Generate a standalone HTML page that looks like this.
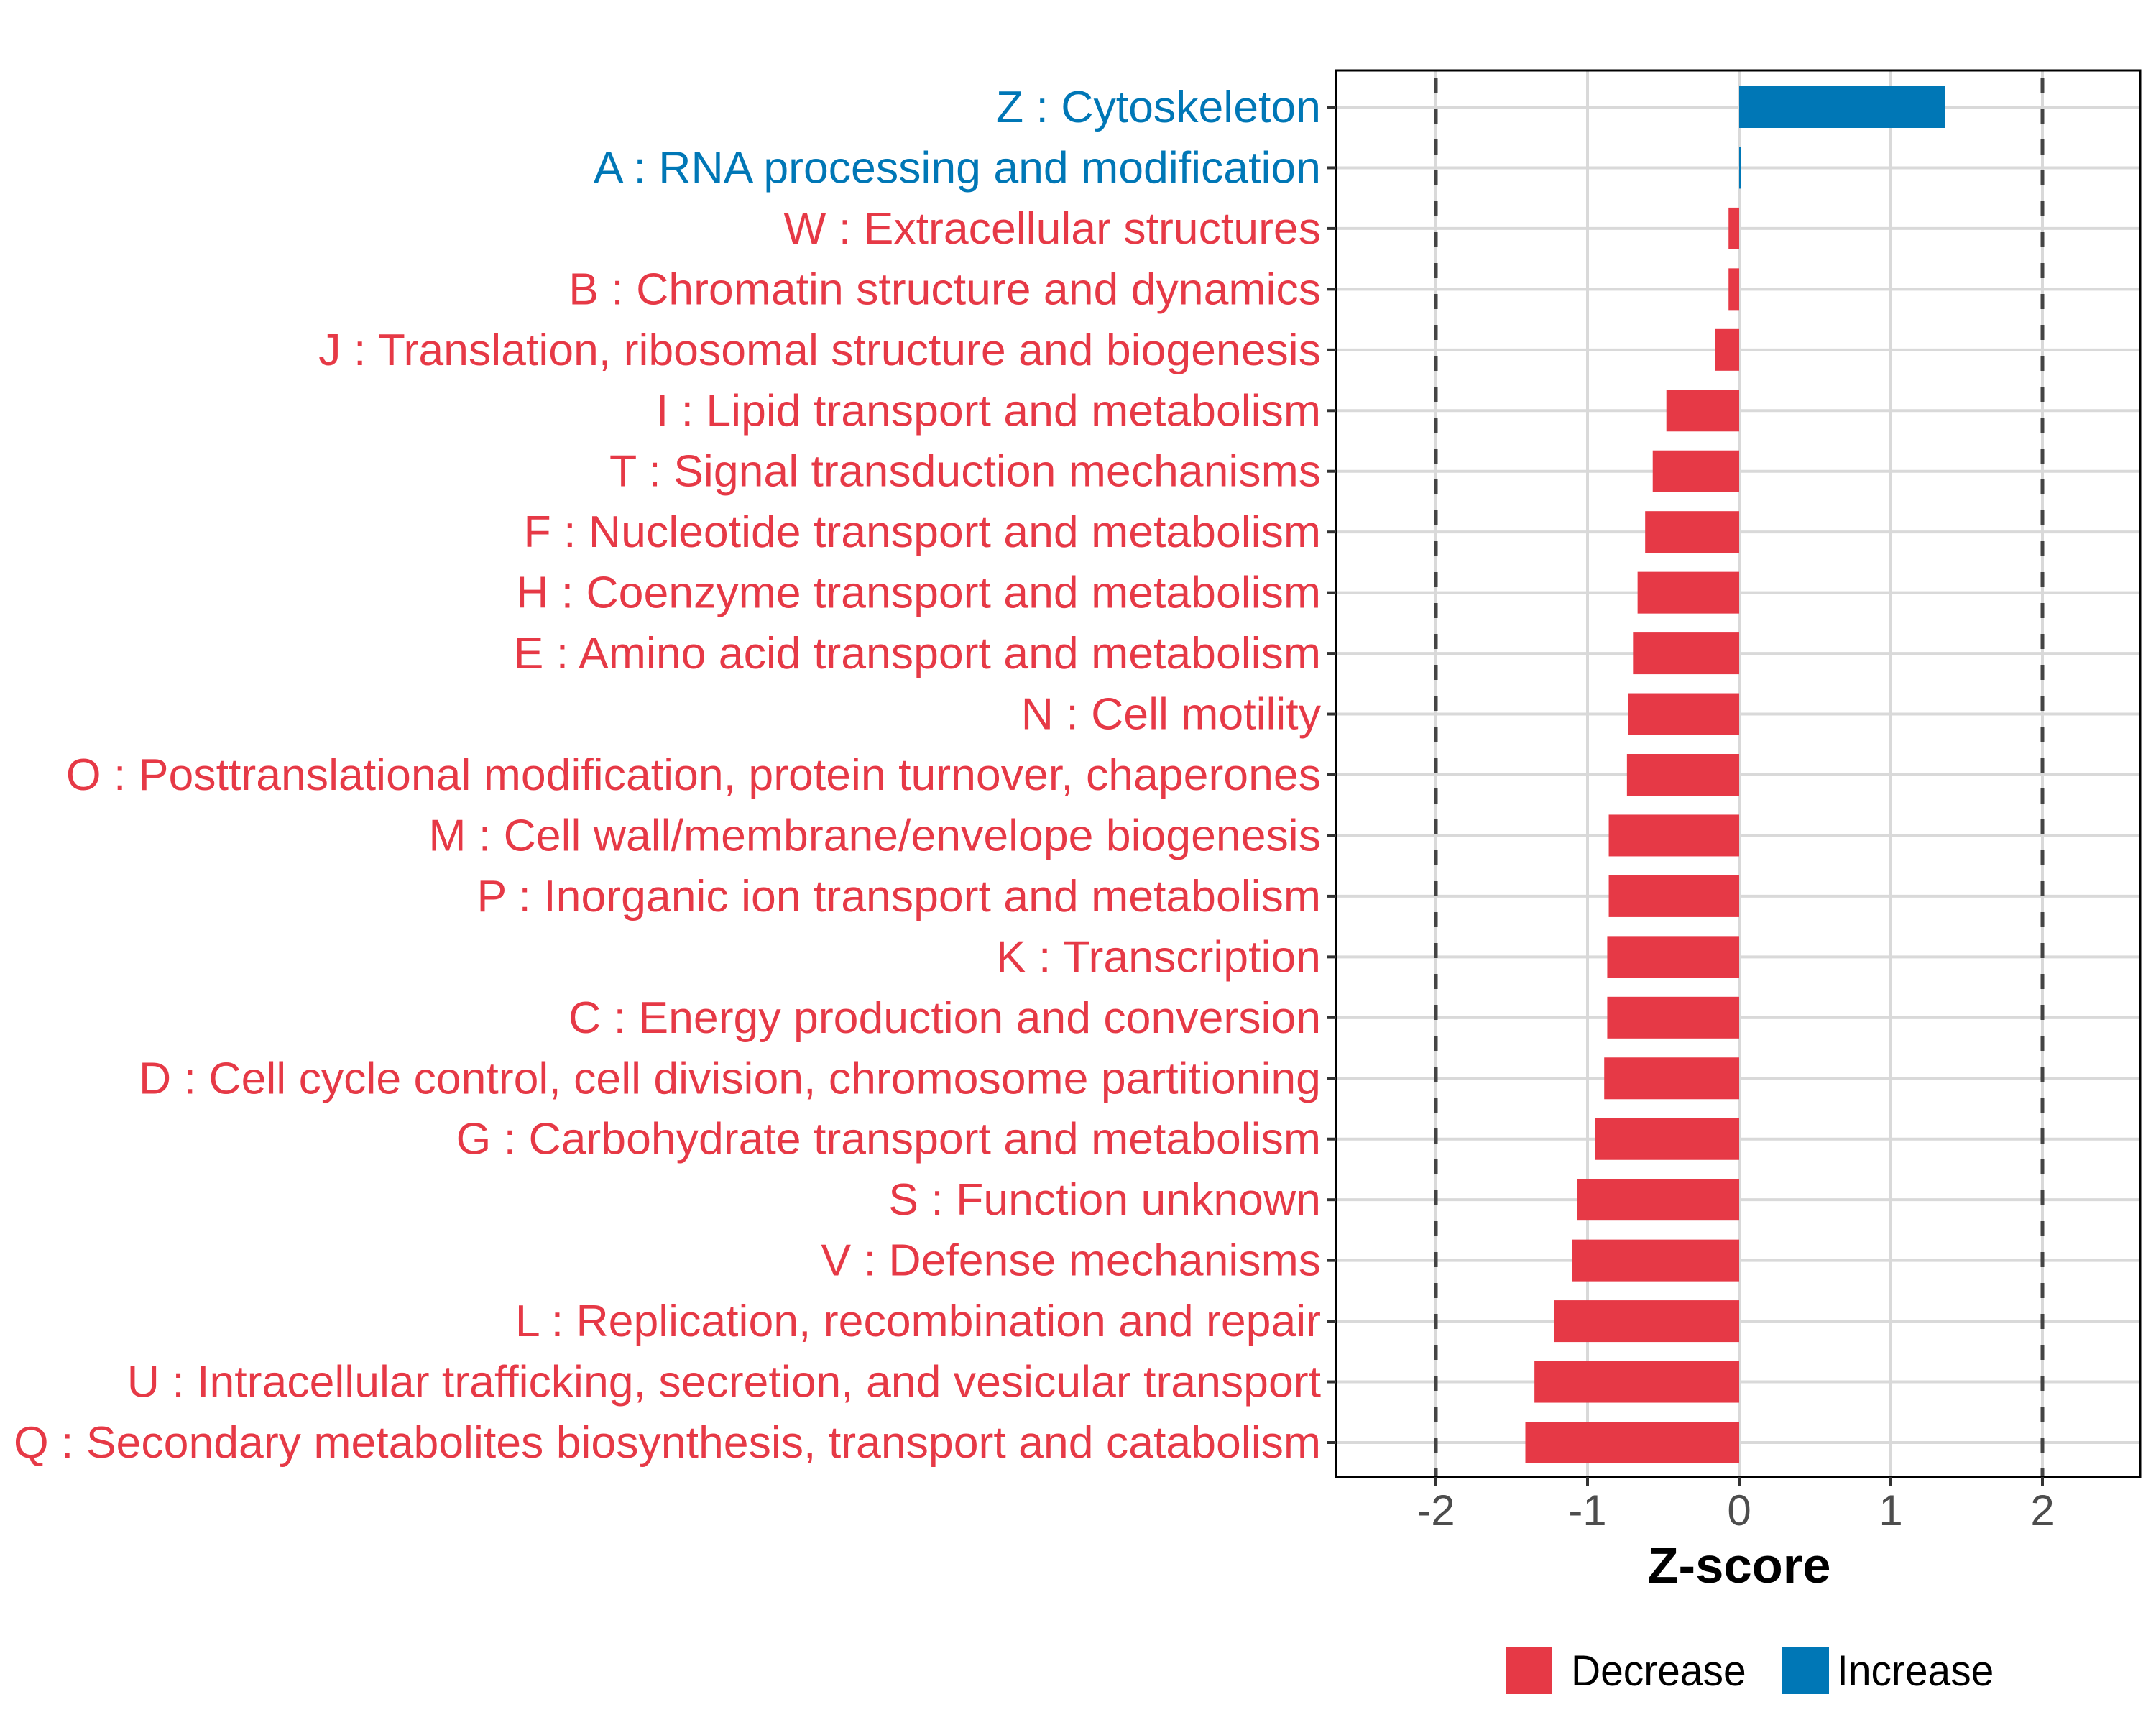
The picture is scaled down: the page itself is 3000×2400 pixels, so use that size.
<!DOCTYPE html>
<html><head><meta charset="utf-8"><style>
html,body{margin:0;padding:0;background:#fff;}
svg{display:block;font-family:"Liberation Sans",Arial,sans-serif;}
</style></head><body>
<svg id="chart" width="3000" height="2400" viewBox="0 0 3000 2400" xmlns="http://www.w3.org/2000/svg">
<rect width="3000" height="2400" fill="#fff"/>
<g id="grid"></g>
<g id="bars"></g>
<g id="refs"></g>
<rect x="1859" y="98" width="1119" height="1957" fill="none" stroke="#000" stroke-width="3"/>
<g id="ylabels"></g>
<g id="xticks"></g>
<text x="2420" y="2202" text-anchor="middle" font-size="70" font-weight="bold" fill="#000" id="xtitle">Z-score</text>
<g>
<rect x="2095" y="2291" width="65" height="66" fill="#E63946"/>
<text class="lg" x="2186" y="2345" font-size="60" fill="#000">Decrease</text>
<rect x="2480" y="2291" width="65" height="66" fill="#0077B6"/>
<text class="lg" x="2556" y="2345" font-size="60" fill="#000">Increase</text>
</g>
</svg>
<script>
const categories = ["Z : Cytoskeleton","A : RNA processing and modification","W : Extracellular structures","B : Chromatin structure and dynamics","J : Translation, ribosomal structure and biogenesis","I : Lipid transport and metabolism","T : Signal transduction mechanisms","F : Nucleotide transport and metabolism","H : Coenzyme transport and metabolism","E : Amino acid transport and metabolism","N : Cell motility","O : Posttranslational modification, protein turnover, chaperones","M : Cell wall/membrane/envelope biogenesis","P : Inorganic ion transport and metabolism","K : Transcription","C : Energy production and conversion","D : Cell cycle control, cell division, chromosome partitioning","G : Carbohydrate transport and metabolism","S : Function unknown","V : Defense mechanisms","L : Replication, recombination and repair","U : Intracellular trafficking, secretion, and vesicular transport","Q : Secondary metabolites biosynthesis, transport and catabolism"];
const zscores = [1.36,0.01,-0.07,-0.07,-0.16,-0.48,-0.57,-0.62,-0.67,-0.70,-0.73,-0.74,-0.86,-0.86,-0.87,-0.87,-0.89,-0.95,-1.07,-1.10,-1.22,-1.35,-1.41];
const xTicks = [-2,-1,0,1,2];
const xTickLabels = ["-2","-1","0","1","2"];
const refValues = [-2,2];

const NS="http://www.w3.org/2000/svg";
const PL=1859,PR=2978,PT=98,PB=2055;
const x0=2420, unit=211;
function xs(v){return x0+v*unit;}
function ys(i){return 149+i*(2007-149)/(categories.length-1);}
function mk(tag,attrs,parent){const e=document.createElementNS(NS,tag);for(const k in attrs)e.setAttribute(k,attrs[k]);parent.appendChild(e);return e;}
const grid=document.getElementById('grid'),bars=document.getElementById('bars'),refs=document.getElementById('refs'),yl=document.getElementById('ylabels'),xt=document.getElementById('xticks');
for(let v=-2;v<=2;v+=1){const X=xs(v);
 const l=mk('line',{x1:X,x2:X,y1:PT,y2:PB,stroke:'#d9d9d9','stroke-width':4},grid);
 
 }
categories.forEach((c,i)=>{const Y=ys(i);
 const l=mk('line',{x1:PL,x2:PR,y1:Y,y2:Y,stroke:'#d9d9d9','stroke-width':4},grid);
 
 });
const h=58;
zscores.forEach((v,i)=>{const Y=ys(i);const a=xs(Math.min(0,v)),b=xs(Math.max(0,v));
 const col=v>=0?'#0077B6':'#E63946';
 const r=mk('rect',{x:a,y:Y-h/2,width:Math.max(b-a,2),height:h,fill:col},bars);
 
 
 const t=mk('text',{x:1838,y:Y+21,'text-anchor':'end','font-size':62,fill:col,class:'yl'},yl);
 t.textContent=categories[i];
 
 
 const tk=mk('line',{x1:1847,x2:PL,y1:Y,y2:Y,stroke:'#333','stroke-width':4},yl);
 
 });
refValues.forEach(v=>{const l=mk('line',{x1:xs(v),x2:xs(v),y1:PT,y2:PB,stroke:'#444','stroke-width':5,'stroke-dasharray':'21 22','stroke-dashoffset':'-10'},refs);
 
 });
xTicks.forEach((v,i)=>{const X=xs(v);
 const tk=mk('line',{x1:X,x2:X,y1:PB,y2:PB+12,stroke:'#333','stroke-width':4},xt);
 
 
 const t=mk('text',{x:X,y:2122,'text-anchor':'middle','font-size':60,fill:'#4d4d4d',class:'xl'},xt);
 t.textContent=xTickLabels[i];
 
 });
const labs=[...document.querySelectorAll('.yl')];
const last=labs[labs.length-1];const f=1819/last.getComputedTextLength();
labs.forEach(t=>{const w=t.getComputedTextLength();t.setAttribute('textLength',w*f);t.setAttribute('lengthAdjust','spacingAndGlyphs');});
document.querySelectorAll('#xtitle').forEach(t=>{const w=t.getComputedTextLength();t.setAttribute('textLength',w*f);t.setAttribute('lengthAdjust','spacingAndGlyphs');});
document.querySelectorAll('.lg').forEach(t=>{const w=t.getComputedTextLength();t.setAttribute('textLength',w*f*0.94);t.setAttribute('lengthAdjust','spacingAndGlyphs');});
</script>
</body></html>
